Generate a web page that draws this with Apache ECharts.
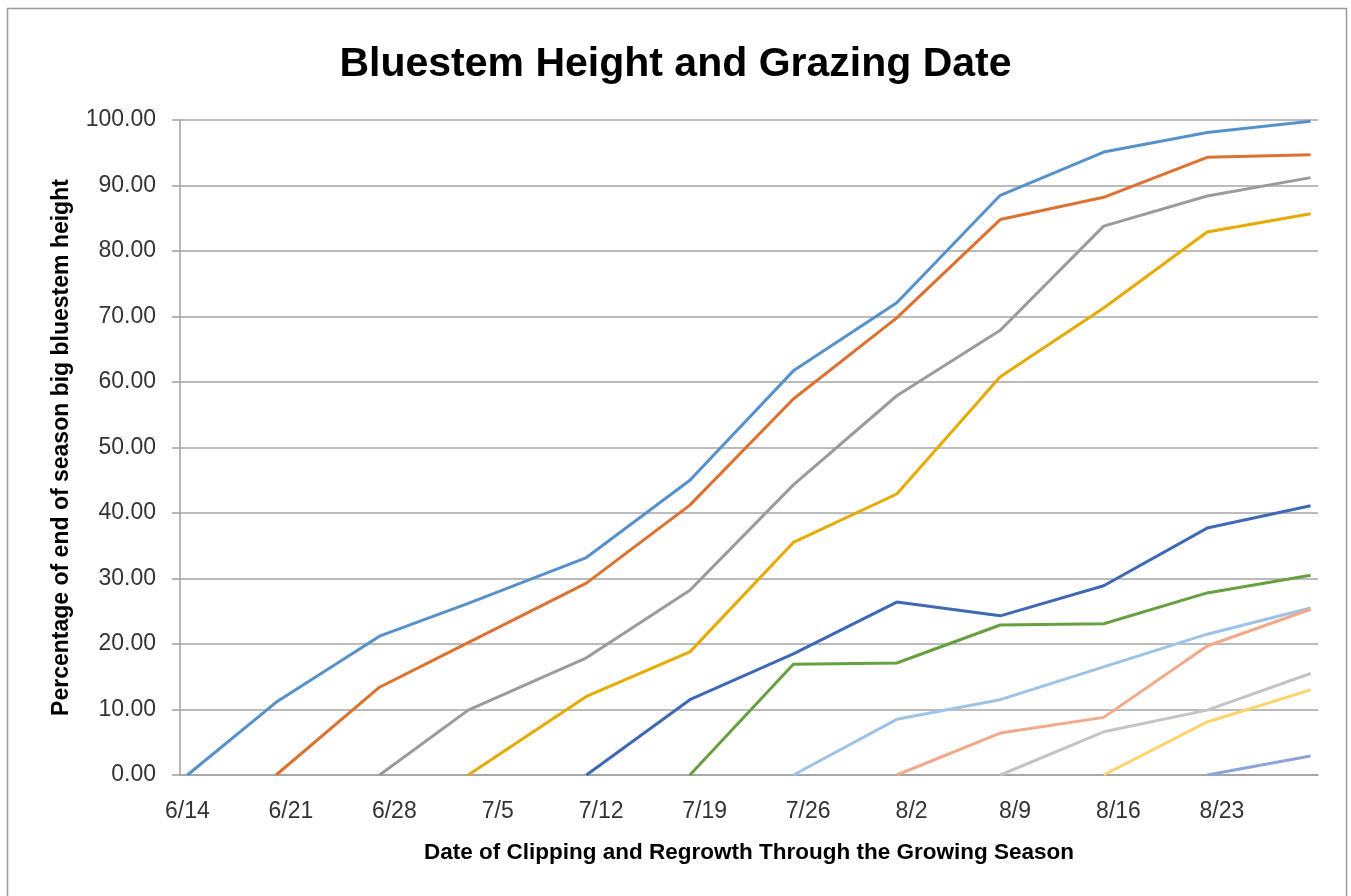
<!DOCTYPE html>
<html>
<head>
<meta charset="utf-8">
<script src="https://cdn.jsdelivr.net/npm/echarts@6/dist/echarts.min.js"></script>
<style>
  html, body { margin: 0; padding: 0; background: #ffffff; }
  #chart { width: 1351px; height: 896px; }
</style>
</head>
<body>
<div id="chart"></div>
<script>
// Clipping / measurement dates (month/day)
const dates = ['6/14', '6/20', '6/27', '7/3', '7/11', '7/18', '7/25', '8/1', '8/8', '8/15', '8/22', '8/29'];
// Tick labels on the date axis
const tickLabels = ['6/14', '6/21', '6/28', '7/5', '7/12', '7/19', '7/26', '8/2', '8/9', '8/16', '8/23'];

// Percentage of end-of-season big bluestem height, one series per clipping start date
const clip0614 = [0, 11.1, 21.2, 26.2, 33.2, 45.0, 61.7, 72.1, 88.5, 95.1, 98.1, 99.8];
const clip0620 = [null, 0, 13.4, 20.2, 29.3, 41.2, 57.4, 69.8, 84.8, 88.2, 94.3, 94.7];
const clip0627 = [null, null, 0, 9.9, 17.9, 28.2, 44.3, 57.9, 67.9, 83.8, 88.4, 91.2];
const clip0703 = [null, null, null, 0, 12.0, 18.8, 35.5, 42.9, 60.8, 71.3, 82.9, 85.7];
const clip0711 = [null, null, null, null, 0, 11.5, 18.5, 26.4, 24.3, 28.9, 37.7, 41.1];
const clip0718 = [null, null, null, null, null, 0, 16.9, 17.1, 22.9, 23.1, 27.8, 30.5];
const clip0725 = [null, null, null, null, null, null, 0, 8.5, 11.5, 16.5, 21.5, 25.5];
const clip0801 = [null, null, null, null, null, null, null, 0, 6.4, 8.8, 19.7, 25.3];
const clip0808 = [null, null, null, null, null, null, null, null, 0, 6.6, 9.9, 15.5];
const clip0815 = [null, null, null, null, null, null, null, null, null, 0, 8.1, 13.0];
const clip0822 = [null, null, null, null, null, null, null, null, null, null, 0, 2.9];

const seriesNames = ['Clipped 6/14', 'Clipped 6/20', 'Clipped 6/27', 'Clipped 7/3', 'Clipped 7/11', 'Clipped 7/18',
                     'Clipped 7/25', 'Clipped 8/1', 'Clipped 8/8', 'Clipped 8/15', 'Clipped 8/22'];
const seriesValues = [clip0614, clip0620, clip0627, clip0703, clip0711, clip0718,
                      clip0725, clip0801, clip0808, clip0815, clip0822];
const colors = ['#5692C9', '#DD7130', '#9B9B9B', '#E6AA00', '#3F68B5', '#67A041',
                '#9DC3E6', '#F2A98A', '#C4C4C4', '#FFD36B', '#8FA3DA'];

const DAY = 24 * 3600 * 1000;
function toTime(s) {
  const p = s.split('/').map(Number);
  return new Date(2019, p[0] - 1, p[1]).getTime();
}
const baseTime = toTime(dates[0]);
function dayOf(s) { return Math.round((toTime(s) - baseTime) / DAY); }
function dayLabel(d) {
  const dt = new Date(baseTime + Math.round(d) * DAY);
  return (dt.getMonth() + 1) + '/' + dt.getDate();
}

const chart = echarts.init(document.getElementById('chart'), null, { renderer: 'canvas' });

const series = seriesValues.map((vals, i) => ({
  name: seriesNames[i],
  type: 'line',
  data: dates.map((d, j) => vals[j] === null ? null : [dayOf(d), vals[j]]).filter(p => p !== null),
  showSymbol: false,
  symbol: 'none',
  lineStyle: { color: colors[i], width: 3 },
  itemStyle: { color: colors[i] },
  emphasis: { disabled: true },
  z: 3
}));

chart.setOption({
  animation: false,
  backgroundColor: '#ffffff',
  color: colors,
  title: {
    text: 'Bluestem Height and Grazing Date',
    left: 'center',
    top: 44,
    padding: 0,
    textStyle: { fontFamily: 'Liberation Sans, Arial, sans-serif', fontSize: 41, fontWeight: 'bold', color: '#000000' }
  },
  graphic: [{
    type: 'rect',
    shape: { x: 7.5, y: 8.5, width: 1339, height: 920 },
    style: { fill: 'none', stroke: '#9a9a9a', lineWidth: 1.5 },
    silent: true,
    z: -1
  }],
  grid: { left: 180, right: 33, top: 120, bottom: 121, containLabel: false },
  xAxis: {
    type: 'value',
    min: dayOf(dates[0]) - 0.5,
    max: dayOf(dates[dates.length - 1]) + 0.5,
    name: 'Date of Clipping and Regrowth Through the Growing Season',
    nameLocation: 'middle',
    nameGap: 66,
    nameTextStyle: { fontFamily: 'Liberation Sans, Arial, sans-serif', fontSize: 22.5, fontWeight: 'bold', color: '#000000' },
    axisLine: { show: true, onZero: false, lineStyle: { color: '#a0a0a0', width: 1.5 } },
    axisTick: { show: false },
    splitLine: { show: false },
    axisLabel: {
      customValues: tickLabels.map(dayOf),
      formatter: function (v) { return dayLabel(v); },
      fontFamily: 'Liberation Sans, Arial, sans-serif',
      fontSize: 23,
      color: '#333333',
      margin: 25
    }
  },
  yAxis: {
    type: 'value',
    min: 0,
    max: 100,
    interval: 10,
    name: 'Percentage of end of season big bluestem height',
    nameLocation: 'middle',
    nameGap: 107,
    nameTextStyle: { fontFamily: 'Liberation Sans, Arial, sans-serif', fontSize: 23, fontWeight: 'bold', color: '#000000' },
    axisLine: { show: true, onZero: false, lineStyle: { color: '#a0a0a0', width: 1.5 } },
    axisTick: { show: true, length: 8, lineStyle: { color: '#a0a0a0', width: 1.5 } },
    splitLine: { show: true, lineStyle: { color: '#a6a6a6', width: 1.5 } },
    axisLabel: {
      formatter: function (v) { return v.toFixed(2); },
      fontFamily: 'Liberation Sans, Arial, sans-serif',
      fontSize: 23,
      color: '#333333',
      margin: 24
    }
  },
  series: series
});
</script>
</body>
</html>
